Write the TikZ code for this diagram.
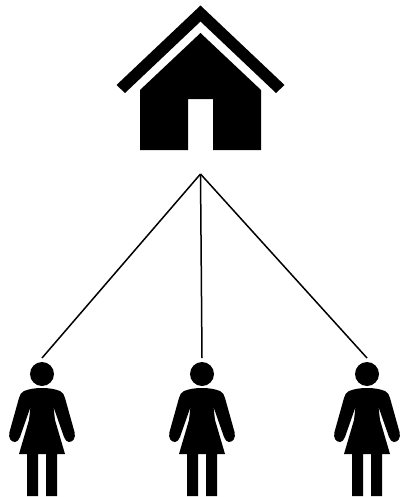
\documentclass[tikz,border=0pt]{standalone}
\tikzset{
    figure/.style={fill=black, draw=none},
    spoke/.style={draw=black, line width=0.03cm},
    woman/.pic={
        \fill[figure] (0, 0) circle (12);
        \fill[figure] (0, 14) .. controls (-7, 14) and (-13, 15) .. (-18, 17)
            .. controls (-21, 18) and (-22, 21) .. (-23, 24)
            -- (-32.5, 58) .. controls (-34, 64) and (-31, 68) .. (-27, 68)
            .. controls (-25, 68) and (-23, 66) .. (-22, 63)
            -- (-11.5, 33) -- (-13, 46) -- (-23, 80) -- (-15, 80) -- (-15, 122)
            -- (-4, 122) -- (-4, 80) -- (4, 80) -- (4, 122) -- (15, 122)
            -- (15, 80) -- (23, 80) -- (13, 46) -- (11.5, 33) -- (22, 63)
            .. controls (23, 66) and (25, 68) .. (27, 68)
            .. controls (31, 68) and (34, 64) .. (32.5, 58)
            -- (23, 24) .. controls (22, 21) and (21, 18) .. (18, 17)
            .. controls (13, 15) and (7, 14) .. (0, 14) -- cycle;
    }
}
\begin{document}
\begin{tikzpicture}[x=0.02cm, y=-0.02cm]
    \useasboundingbox (0, 0) rectangle (399, 497);

    % House
    \fill[figure] (200.5, 5.5) -- (284.5, 85) -- (276, 93) -- (200.5, 21.5) -- (125, 93) -- (116.5, 85) -- cycle;
    \fill[figure] (200.5, 33) -- (261, 90) -- (261, 150) -- (213, 150) -- (213, 99) -- (188, 99) -- (188, 150) -- (140, 150) -- (140, 90) -- cycle;

    % Women
    \pic at (42, 374) {woman};
    \pic at (202, 374) {woman};
    \pic at (367, 374) {woman};

    % Points
    \coordinate (hub) at (200.5, 174);
    \coordinate (left) at (42, 358);
    \coordinate (middle) at (202, 358);
    \coordinate (right) at (367, 358);

    % Lines
    \draw[spoke] (hub) -- (left);
    \draw[spoke] (hub) -- (middle);
    \draw[spoke] (hub) -- (right);
\end{tikzpicture}
\end{document}
